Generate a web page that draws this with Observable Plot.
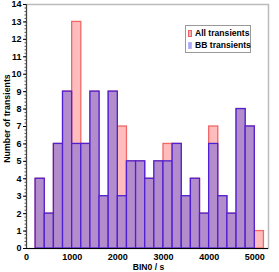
<!DOCTYPE html>
<html>
<head>
<meta charset="utf-8">
<script src="https://cdn.jsdelivr.net/npm/d3@7"></script>
<script src="https://cdn.jsdelivr.net/npm/@observablehq/plot@0.6"></script>
<style>
  html, body { margin: 0; padding: 0; background: #fff; }
  #wrap { position: relative; width: 279px; height: 272px; }
  #legend {
    position: absolute; left: 185px; top: 25px; width: 64px; height: 26px;
    border: 1px solid #999; background: #fff;
    font: bold 8.6px "Liberation Sans", Arial, sans-serif; color: #000;
  }
  .row { position: absolute; left: 2px; white-space: nowrap; line-height: 10px; }
  .sw { display: inline-block; width: 2px; height: 5px; margin-right: 3px; vertical-align: -1px; }
</style>
</head>
<body>
<div id="wrap">
  <div id="chart"></div>
  <div id="legend">
    <div class="row" style="top:2px"><span class="sw" style="background:#ffb0b0;border:1px solid #f06060"></span>All transients</div>
    <div class="row" style="top:14px"><span class="sw" style="background:#a8a8f4;border:1px solid #b8b8ff"></span>BB transients</div>
  </div>
</div>
<script>
const binStart = [200, 400, 600, 800, 1000, 1200, 1400, 1600, 1800, 2000, 2200, 2400, 2600, 2800, 3000, 3200, 3400, 3600, 3800, 4000, 4200, 4400, 4600, 4800, 5000];
const allCounts = [4, 2, 6, 9, 13, 6, 9, 3, 9, 7, 5, 5, 4, 5, 6, 6, 3, 4, 2, 7, 3, 2, 8, 7, 1];
const bbCounts  = [4, 2, 6, 9, 6, 6, 9, 3, 9, 3, 5, 5, 4, 5, 5, 6, 3, 4, 2, 6, 3, 2, 8, 7, 0];
const binWidth = 200;
const xTicks = [0, 1000, 2000, 3000, 4000, 5000];
const yTicks = [0, 1, 2, 3, 4, 5, 6, 7, 8, 9, 10, 11, 12, 13, 14];

const allData = binStart.map((s, i) => ({x1: s, x2: s + binWidth, y: allCounts[i]}));
const bbData = binStart.map((s, i) => ({x1: s, x2: s + binWidth, y: bbCounts[i]})).filter(d => d.y > 0);

const chart = Plot.plot({
  width: 279,
  height: 272,
  marginLeft: 26,
  marginRight: 11,
  marginTop: 4,
  marginBottom: 24,
  style: {fontFamily: "'Liberation Sans', Arial, sans-serif", fontSize: "9px", fontWeight: "bold", color: "#000", background: "#fff"},
  x: {domain: [0, 5300]},
  y: {domain: [0, 14]},
  marks: [
    Plot.frame({stroke: "#bbbbbb", strokeWidth: 1.5}),
    Plot.rectY(allData, {x1: "x1", x2: "x2", y: "y", fill: "#ffbcbc", stroke: "#f06868", strokeWidth: 1.3}),
    Plot.rectY(bbData, {x1: "x1", x2: "x2", y: "y", fill: "#b38ccc", stroke: "#5020d0", strokeWidth: 1.3}),
    Plot.ruleY([0], {stroke: "#000", strokeWidth: 1.2}),
    Plot.ruleX([0], {stroke: "#444", strokeWidth: 1.1}),
    Plot.axisY({ticks: 70, tickSize: 1.5, tickFormat: () => "", label: null, stroke: "#555"}),
    Plot.axisX({ticks: xTicks, tickSize: 0, tickPadding: 5, label: null, tickFormat: d => String(d), fontSize: 9, fontWeight: "bold"}),
    Plot.axisY({ticks: yTicks, tickSize: 3, tickPadding: 2, label: null, fontSize: 9, fontWeight: "bold"}),
    Plot.text(["BIN0 / s"], {frameAnchor: "bottom", lineAnchor: "middle", textAnchor: "middle", dx: 1, dy: 18.5, fontSize: 8.6, fontWeight: "bold"}),
    Plot.text(["Number of transients"], {frameAnchor: "left", textAnchor: "middle", lineAnchor: "middle", dx: -19, dy: -8, rotate: -90, fontSize: 8.8, fontWeight: "bold"})
  ]
});
document.getElementById("chart").appendChild(chart);
</script>
</body>
</html>
